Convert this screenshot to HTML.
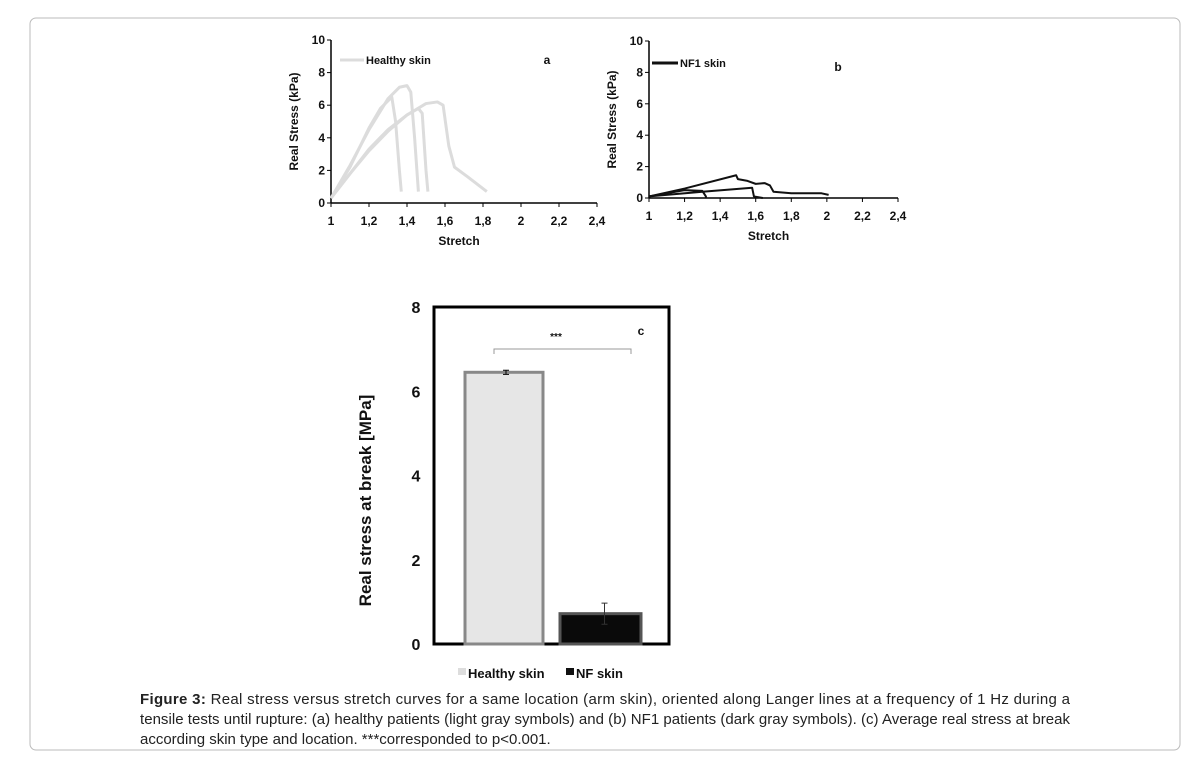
<!DOCTYPE html>
<html><head><meta charset="utf-8"><style>
body{margin:0;width:1195px;height:764px;background:#fff;overflow:hidden;font-family:"Liberation Sans",Arial,sans-serif}
svg text{font-family:"Liberation Sans",Arial,sans-serif}
</style></head><body>
<svg id="s" width="1195" height="764">
<rect x="30" y="18" width="1150" height="732" rx="6" fill="#fff" stroke="#bbb" stroke-width="1"/>
<g id="a"></g>
<g id="b"></g>
<g id="c"></g>
<text x="140" y="704" font-size="15" fill="#222" textLength="930"><tspan font-weight="bold">Figure 3:</tspan> Real stress versus stretch curves for a same location (arm skin), oriented along Langer lines at a frequency of 1 Hz during a</text>
<text x="140" y="724" font-size="15" fill="#222" textLength="930">tensile tests until rupture: (a) healthy patients (light gray symbols) and (b) NF1 patients (dark gray symbols). (c) Average real stress at break</text>
<text x="140" y="744" font-size="15" fill="#222">according skin type and location. ***corresponded to p&lt;0.001.</text>
</svg>
<script>
const xTicks=[1,1.2,1.4,1.6,1.8,2,2.2,2.4];
const xTickLabels=["1","1,2","1,4","1,6","1,8","2","2,2","2,4"];
const yTicks=[0,2,4,6,8,10];
const healthy1=[[1,0.3],[1.1,2.2],[1.2,4.6],[1.26,5.8],[1.32,6.5],[1.34,5],[1.36,2],[1.37,0.7]];
const healthy2=[[1,0.3],[1.1,2.3],[1.2,4.5],[1.3,6.4],[1.36,7.1],[1.4,7.2],[1.42,6.8],[1.44,4],[1.46,0.7]];
const healthy3=[[1,0.3],[1.1,1.8],[1.2,3.3],[1.3,4.5],[1.4,5.4],[1.46,5.8],[1.48,5.5],[1.5,2],[1.51,0.7]];
const healthy4=[[1,0.3],[1.1,1.8],[1.2,3.2],[1.3,4.4],[1.4,5.4],[1.5,6.1],[1.56,6.2],[1.59,6],[1.62,3.5],[1.65,2.2],[1.72,1.6],[1.82,0.7]];
const nf1=[[1,0.1],[1.2,0.6],[1.49,1.45],[1.5,1.2],[1.55,1.1],[1.6,0.9],[1.65,0.95],[1.68,0.8],[1.7,0.4],[1.8,0.3],[1.9,0.3],[1.97,0.3],[2.01,0.2]];
const nf2=[[1,0.1],[1.3,0.4],[1.58,0.65],[1.59,0.1],[1.64,0]];
const nf3=[[1,0.1],[1.2,0.5],[1.3,0.45],[1.32,0.1],[1.32,0]];
const barCategories=["Healthy skin","NF skin"];
const barValues=[6.45,0.72];
const barErrors=[0.05,0.25];
const barTicks=[0,2,4,6,8];
const NS="http://www.w3.org/2000/svg";
function el(p,t,a){const e=document.createElementNS(NS,t);for(const k in a)e.setAttribute(k,a[k]);p.appendChild(e);return e;}
function line(p,x1,y1,x2,y2,c,w){return el(p,'line',{x1,y1,x2,y2,stroke:c,'stroke-width':w});}
function txt(p,x,y,s,o){const e=el(p,'text',Object.assign({x,y,'font-size':12,'font-weight':'bold','text-anchor':'middle',fill:'#111'},o||{}));e.textContent=s;return e;}
function stressChart(g,x0,x1,y0,y1,series,color,width,legend,letter,lx,ly){
 const X=v=>x0+(v-1)/1.4*(x1-x0), Y=v=>y0-(v/10)*(y0-y1);
 const ya=line(g,x0,y0,x0,y1,'#000',1.5);
 
 const xa=line(g,x0,y0,x1,y0,'#000',1.5);
 
 yTicks.forEach(t=>{line(g,x0-4,Y(t),x0,Y(t),'#000',1);
  const l=txt(g,x0-6,Y(t)+4,String(t),{'text-anchor':'end'});
  });
 xTicks.forEach((t,i)=>{line(g,X(t),y0,X(t),y0+4,'#000',1);
  const l=txt(g,X(t),y0+22,xTickLabels[i]);
  });
 const xt=txt(g,(x0+x1)/2-5,y0+42,'Stretch');
 
 const yt=txt(g,0,0,'Real Stress  (kPa)',{transform:`translate(${x0-33},${(y0+y1)/2}) rotate(-90)`});
 
 series.forEach((s,i)=>{const p=el(g,'polyline',{points:s.map(d=>X(d[0])+','+Y(d[1])).join(' '),fill:'none',stroke:color,'stroke-width':width,'stroke-linejoin':'round'});
  });
 const lg=line(g,legend[0],legend[1],legend[0]+legend[2],legend[1],color,3);
 
 const lt=txt(g,legend[0]+legend[2]+2,legend[1]+4,legend[3],{'text-anchor':'start','font-size':11});
 
 const lb=txt(g,lx,ly,letter,{'font-size':12});
 
}
stressChart(document.getElementById('a'),331,597,203,40,[healthy1,healthy2,healthy3,healthy4],'#dcdcdc',3,[340,60,24,'Healthy skin'],'a',547,64);
stressChart(document.getElementById('b'),649,898,198,41,[nf1,nf2,nf3],'#111',2,[652,63,26,'NF1 skin'],'b',838,71);
// chart c
const g=document.getElementById('c');
const L=434,R=669,T=307,B=644,Yc=v=>B-v/8*(B-T);
const box=el(g,'rect',{x:L,y:T,width:R-L,height:B-T,fill:'#fff',stroke:'#000','stroke-width':3});

barTicks.forEach(t=>{const l=txt(g,L-18,Yc(t)+6,String(t),{'font-size':16});
 });
const ct=txt(g,0,0,'Real stress at break [MPa]',{'font-size':17,transform:`translate(371,${(T+B)/2+25}) rotate(-90)`});

const bx=[465,560],bw=[78,81],fills=['#e6e6e6','#0a0a0a'],edges=['#888','#555'];
barValues.forEach((v,i)=>{
 const r=el(g,'rect',{x:bx[i],y:Yc(v),width:bw[i],height:B-Yc(v),fill:fills[i],stroke:edges[i],'stroke-width':3});
 
 const cx=bx[i]+bw[i]/2+(i?4:2);
 const e=el(g,'path',{d:`M${cx-3},${Yc(v+barErrors[i])}H${cx+3}M${cx},${Yc(v+barErrors[i])}V${Yc(v-barErrors[i])}M${cx-3},${Yc(v-barErrors[i])}H${cx+3}`,stroke:i?'#333':'#000','stroke-width':1,fill:'none'});
 
});
const br=el(g,'path',{d:'M494,354V349H631V354',fill:'none',stroke:'#999','stroke-width':1});

const st=txt(g,556,340,'***',{'font-size':10});

const lc=txt(g,641,335,'c',{'font-size':12});

barCategories.forEach((c,i)=>{const x=i?566:458;
 const s=el(g,'rect',{x,y:668,width:8,height:7,fill:i?'#111':'#ddd'});
 
 const t=txt(g,x+10,678,c,{'text-anchor':'start','font-size':13});
 });
</script>
</body></html>
